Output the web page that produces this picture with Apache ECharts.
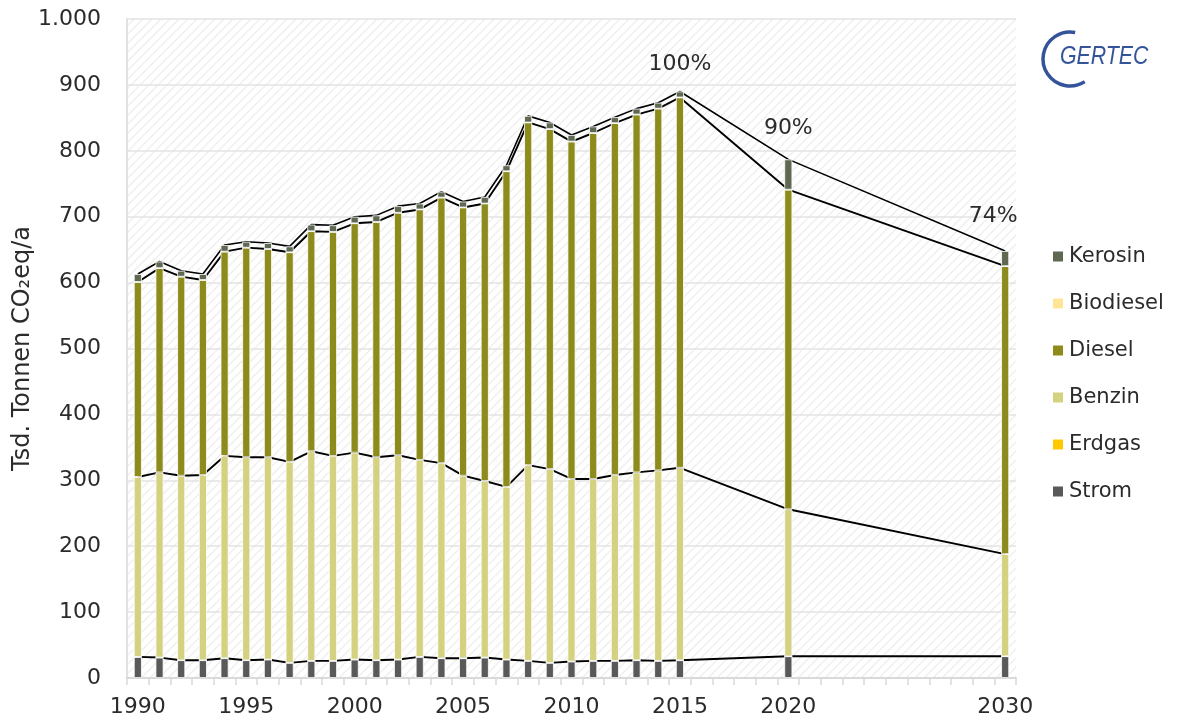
<!DOCTYPE html>
<html><head><meta charset="utf-8">
<script src="https://cdn.jsdelivr.net/npm/echarts@6/dist/echarts.min.js"></script>
<style>html,body{margin:0;padding:0;background:#fff}#c{width:1178px;height:724px}</style>
</head><body><div id="c"></div>
<script>
// ---- data (Tsd. Tonnen CO2eq/a) ----
const years = [1990,1991,1992,1993,1994,1995,1996,1997,1998,1999,2000,2001,2002,2003,2004,2005,2006,2007,2008,2009,2010,2011,2012,2013,2014,2015,2020,2030];
const strom     = [32,31,27,27,30,27,28,23,26,26,28,27,28,32,30,30,31,28,26,23,25,26,26,27,26,27,33,33];
const erdgas    = [0,0,0,0,0,0,0,0,0,0,0,0,0,0,0,0,0,0,0,0,0,0,0,0,0,0,0,0];
const benzin    = [273,281,280,281,307,308,307,305,318,311,314,308,310,299,296,277,268,262,297,294,277,276,282,285,289,292,223,155];
const diesel    = [296,310,302,296,310,318,316,318,334,340,348,357,368,380,403,407,421,479,520,516,512,525,534,543,549,562,485,437];
const biodiesel = [0,0,0,0,0,0,0,0,0,0,0,0,0,0,0,0,0,0,0,0,0,0,0,0,0,0,0,0];
const kerosin   = [12,10,9,9,10,9,9,9,10,10,10,10,10,9,9,9,10,9,10,10,10,10,9,9,9,9,46,23];
const xTickLabels = ['1990','1995','2000','2005','2010','2015','2020','2030'];
const pctYears  = [2015,2020,2030];
const pctLabels = ['100%','90%','74%'];

// ---- build full category range ----
const cats = [];
for (let y = years[0]; y <= years[years.length-1]; y++) cats.push(String(y));
function expand(arr){
  const out = cats.map(()=>null);
  years.forEach((y,i)=>{ out[y-years[0]] = arr[i]; });
  return out;
}
function cum(...arrs){ return years.map((_,i)=>arrs.reduce((s,a)=>s+a[i],0)); }

const FONT = 'DejaVu Sans';
const TXT = '#2b2b2b';

// hatch pattern
const pc = document.createElement('canvas'); pc.width = 9; pc.height = 9;
const g = pc.getContext('2d'); g.strokeStyle = '#eeeeee'; g.lineWidth = 1.3;
g.beginPath(); g.moveTo(-1,10); g.lineTo(10,-1); g.moveTo(-1,1); g.lineTo(1,-1); g.moveTo(8,10); g.lineTo(10,8); g.stroke();

const colors = {Strom:'#595959', Erdgas:'#FFC800', Benzin:'#D4D181', Diesel:'#8C8B1C', Biodiesel:'#FFE696', Kerosin:'#5F6851'};
const barDefs = [['Strom',strom],['Erdgas',erdgas],['Benzin',benzin],['Diesel',diesel],['Biodiesel',biodiesel],['Kerosin',kerosin]];

const labelStyle = {2015:{d:16,o:[0,0]}, 2020:{d:20,o:[0,0]}, 2030:{d:24,o:[-12,0]}};

const series = barDefs.map(([name,arr])=>{
  let data = expand(arr);
  if (name === 'Kerosin') {
    data = data.map((v,idx)=>{
      const yr = years[0]+idx;
      const k = pctYears.indexOf(yr);
      if (k < 0 || v === null) return v;
      const ls = labelStyle[yr];
      return {value:v, label:{show:true, position:'top', distance:ls.d, offset:ls.o, formatter:pctLabels[k],
        color:TXT, fontSize:22, fontFamily:FONT}};
    });
  }
  return {name, type:'bar', stack:'total', barWidth:8, z:3, data,
    itemStyle:{color:colors[name], borderColor:'#fff', borderWidth:0.8}, emphasis:{disabled:true}};
});

const lineDefs = [cum(strom), cum(strom,erdgas,benzin), cum(strom,erdgas,benzin,diesel,biodiesel), cum(strom,erdgas,benzin,diesel,biodiesel,kerosin)];
lineDefs.forEach((arr,i)=>{
  series.push({type:'line', data:expand(arr), connectNulls:true, symbol:'none', z:1, silent:true,
    lineStyle:{color:'#000', width: i===3 ? 1.6 : 1.9}});
});

const chart = echarts.init(document.getElementById('c'));
chart.setOption({
  animation:false,
  textStyle:{fontFamily:FONT},
  grid:{left:127, right:162, top:19, bottom:46, outerBoundsMode:'none', containLabel:false,
    show:true, borderWidth:0, backgroundColor:{image:pc, repeat:'repeat'}},
  legend:{orient:'vertical', left:1046, top:241, itemGap:26, itemWidth:12, itemHeight:12, icon:'rect',
    data:['Kerosin','Biodiesel','Diesel','Benzin','Erdgas','Strom'],
    textStyle:{fontSize:21, color:TXT, fontFamily:FONT}},
  xAxis:{type:'category', data:cats, boundaryGap:true,
    axisLine:{lineStyle:{color:'#d9d9d9', width:2}},
    axisTick:{show:true, interval:0, length:7, lineStyle:{color:'#d9d9d9', width:1.5}},
    axisLabel:{interval:(i,v)=>xTickLabels.indexOf(v)>=0, fontSize:22, color:TXT, margin:18, fontFamily:FONT},
    splitLine:{show:false}},
  yAxis:{type:'value', min:0, max:1000, interval:100,
    name:'Tsd. Tonnen CO\u2082eq/a', nameLocation:'middle', nameGap:92, nameMoveOverlap:false,
    nameTextStyle:{fontSize:24, color:TXT, fontFamily:FONT},
    axisLine:{show:true, lineStyle:{color:'#d9d9d9', width:1.5}},
    axisTick:{show:false},
    axisLabel:{fontSize:22, color:TXT, margin:26, fontFamily:FONT,
      formatter:v=> v>=1000 ? Math.floor(v/1000)+'.'+String(v%1000).padStart(3,'0') : String(v)},
    splitLine:{lineStyle:{color:'#e3e3e3', width:1.5}}},
  graphic:[
    {type:'arc', shape:{cx:1070, cy:59, r:27, startAngle:-79*Math.PI/180, endAngle:57*Math.PI/180, clockwise:false},
     style:{stroke:'#34549A', lineWidth:3.5, fill:null}},
    {type:'text', x:1060, y:44, scaleX:0.82, style:{text:'GERTEC', font:'italic 26px "Liberation Sans"', fill:'#34549A'}}
  ],
  series
});
</script></body></html>
